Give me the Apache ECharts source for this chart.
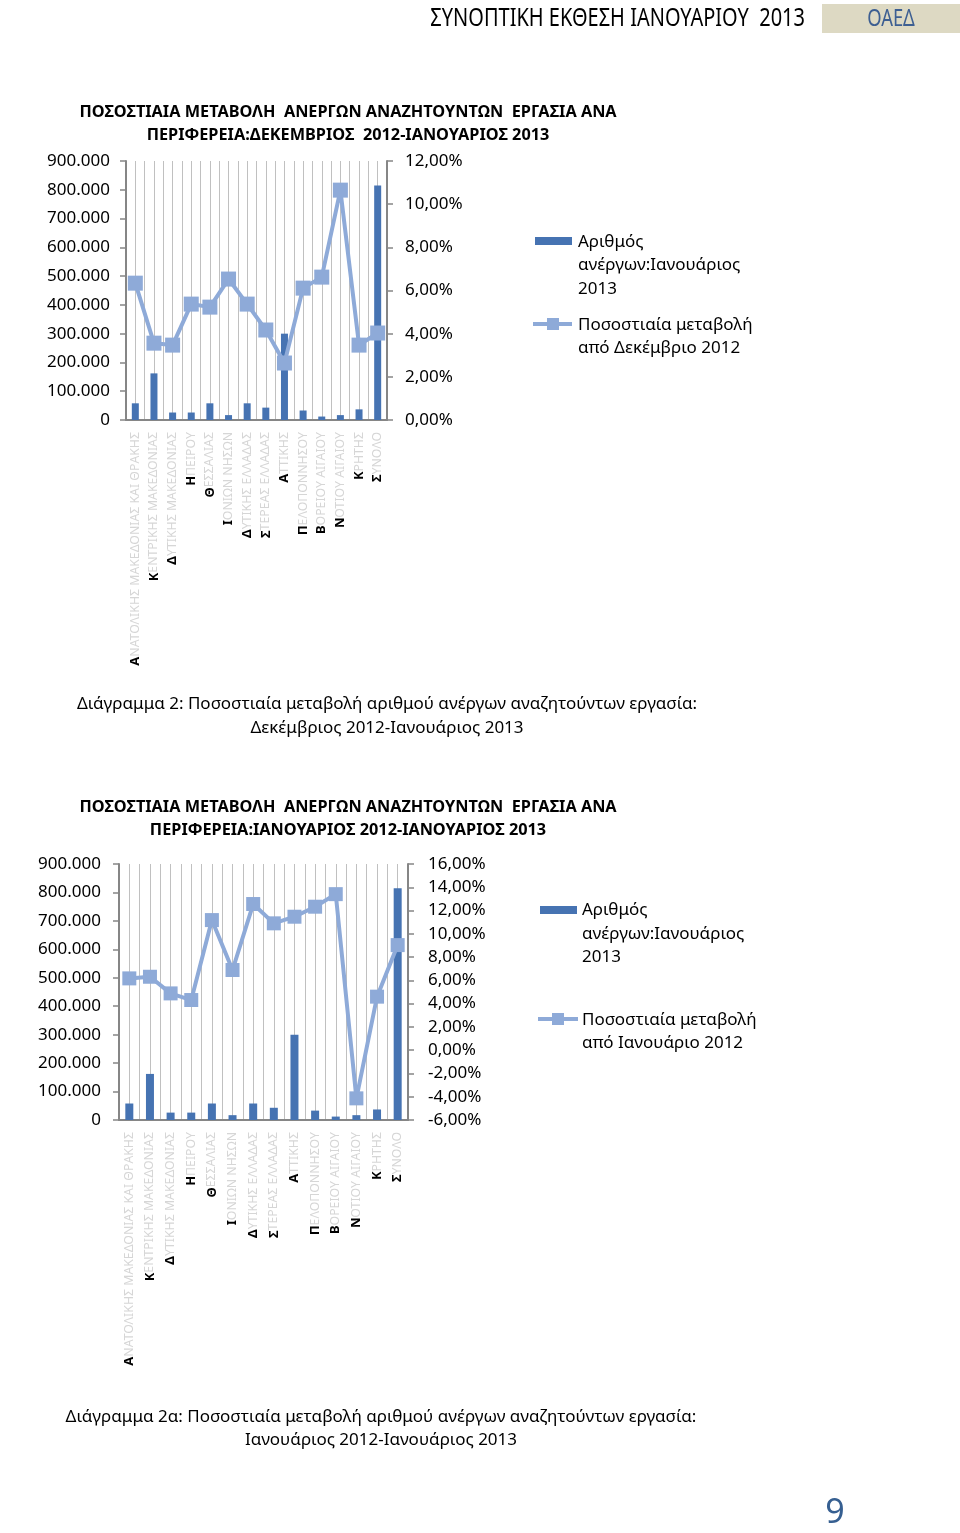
<!DOCTYPE html>
<html><head><meta charset="utf-8">
<script src="https://cdn.jsdelivr.net/npm/echarts@6/dist/echarts.min.js"></script>
<style>html,body{margin:0;padding:0;background:#fff}#c{width:960px;height:1533px}</style>
</head><body><div id="c"></div>
<script>
// ---- data ----
const regions = ['ΑΝΑΤΟΛΙΚΗΣ ΜΑΚΕΔΟΝΙΑΣ ΚΑΙ ΘΡΑΚΗΣ','ΚΕΝΤΡΙΚΗΣ ΜΑΚΕΔΟΝΙΑΣ','ΔΥΤΙΚΗΣ ΜΑΚΕΔΟΝΙΑΣ','ΗΠΕΙΡΟΥ','ΘΕΣΣΑΛΙΑΣ','ΙΟΝΙΩΝ ΝΗΣΩΝ','ΔΥΤΙΚΗΣ ΕΛΛΑΔΑΣ','ΣΤΕΡΕΑΣ ΕΛΛΑΔΑΣ','ΑΤΤΙΚΗΣ','ΠΕΛΟΠΟΝΝΗΣΟΥ','ΒΟΡΕΙΟΥ ΑΙΓΑΙΟΥ','ΝΟΤΙΟΥ ΑΙΓΑΙΟΥ','ΚΡΗΤΗΣ','ΣΥΝΟΛΟ'];
const unemployedJan2013 = [58000,162000,26000,26000,58000,17000,58000,43000,300000,33000,12000,17000,37000,815000];
const changeFromDec2012 = [6.34,3.56,3.47,5.37,5.23,6.53,5.37,4.17,2.64,6.11,6.62,10.65,3.47,4.03];
const changeFromJan2012 = [6.17,6.31,4.88,4.31,11.18,6.89,12.56,10.90,11.47,12.33,13.41,-4.14,4.60,9.03];
const countAxis = {min:0, max:900000, step:100000};
const pctAxis1 = {min:0, max:12, step:2};
const pctAxis2 = {min:-6, max:16, step:2};
const barName = 'Αριθμός ανέργων:Ιανουάριος 2013';
const lineName1 = 'Ποσοστιαία μεταβολή από Δεκέμβριο 2012';
const lineName2 = 'Ποσοστιαία μεταβολή από Ιανουάριο 2012';

// ---- style ----
const FONT = "'Noto Sans', 'DejaVu Sans', sans-serif";
const BAR = '#4673b2';
const LINE = '#8eaad8';
const AXIS = '#868686';
const GRIDC = '#c0c0c0';

const thousands = v => v === 0 ? '0' : (v/1000).toFixed(0) + '.000';
const pct = v => v.toFixed(2).replace('.', ',') + '%';
const catFmt = v => '{k|' + v.charAt(0) + '}{r|' + v.slice(1) + '}';

function catAxis(g){
  return {type:'category', gridIndex:g, data:regions, position:'bottom',
    axisLine:{onZero:false, lineStyle:{color:AXIS, width:2}},
    axisTick:{length:5, lineStyle:{color:AXIS, width:1.5}},
    axisLabel:{rotate:90, interval:0, margin:12, formatter:catFmt,
      rich:{k:{fontSize:13, fontWeight:'bold', color:'#000', fontFamily:FONT},
            r:{fontSize:12.3, color:'#d6d6d6', fontFamily:FONT}}},
    splitLine:{show:false}};
}
function halfGrid(g){
  return {type:'value', gridIndex:g, position:'top', min:0, max:regions.length*2, interval:1,
    axisLine:{show:false}, axisTick:{show:false}, axisLabel:{show:false},
    splitLine:{show:true, lineStyle:{color:GRIDC, width:1}}};
}
function valAxis(g, pos, a, fmt, margin){
  return {type:'value', gridIndex:g, position:pos, min:a.min, max:a.max, interval:a.step,
    axisLine:{show:true, onZero:false, lineStyle:{color:AXIS, width:2}},
    axisTick:{show:true, length:6, lineStyle:{color:AXIS, width:1.5}},
    axisLabel:{formatter:fmt, color:'#000', fontSize:17, fontFamily:FONT, margin:margin},
    splitLine:{show:false}};
}

const chart = echarts.init(document.getElementById('c'), null, {renderer:'canvas'});
const T = (x, y, text, o) => Object.assign({type:'text', x:x, y:y, style:Object.assign({text:text, fill:'#000', fontSize:17, fontFamily:FONT, align:'left', verticalAlign:'middle'}, o||{})});

chart.setOption({
  animation:false,
  backgroundColor:'#fff',
  title:[
    {text:'ΠΟΣΟΣΤΙΑΙΑ ΜΕΤΑΒΟΛΗ  ΑΝΕΡΓΩΝ ΑΝΑΖΗΤΟΥΝΤΩΝ  ΕΡΓΑΣΙΑ ΑΝΑ\nΠΕΡΙΦΕΡΕΙΑ:ΔΕΚΕΜΒΡΙΟΣ  2012-ΙΑΝΟΥΑΡΙΟΣ 2013', left:343, top:96, textAlign:'center',
     textStyle:{fontSize:16.3, fontWeight:'bold', lineHeight:23, color:'#000', fontFamily:FONT}},
    {text:'ΠΟΣΟΣΤΙΑΙΑ ΜΕΤΑΒΟΛΗ  ΑΝΕΡΓΩΝ ΑΝΑΖΗΤΟΥΝΤΩΝ  ΕΡΓΑΣΙΑ ΑΝΑ\nΠΕΡΙΦΕΡΕΙΑ:ΙΑΝΟΥΑΡΙΟΣ 2012-ΙΑΝΟΥΑΡΙΟΣ 2013', left:343, top:791, textAlign:'center',
     textStyle:{fontSize:16.3, fontWeight:'bold', lineHeight:23, color:'#000', fontFamily:FONT}}
  ],
  grid:[
    {left:126, top:161, width:261, height:259},
    {left:119, top:864, width:289, height:256}
  ],
  xAxis:[catAxis(0), halfGrid(0), catAxis(1), halfGrid(1)],
  yAxis:[
    valAxis(0,'left',countAxis,thousands,16),
    valAxis(0,'right',pctAxis1,pct,18),
    valAxis(1,'left',countAxis,thousands,18),
    valAxis(1,'right',pctAxis2,pct,20)
  ],
  series:[
    {name:barName, type:'bar', xAxisIndex:0, yAxisIndex:0, data:unemployedJan2013, barWidth:7, itemStyle:{color:BAR}},
    {name:lineName1, type:'line', xAxisIndex:0, yAxisIndex:1, data:changeFromDec2012, symbol:'rect', symbolSize:15,
     lineStyle:{color:LINE, width:4}, itemStyle:{color:LINE}},
    {name:barName, type:'bar', xAxisIndex:2, yAxisIndex:2, data:unemployedJan2013, barWidth:8, itemStyle:{color:BAR}},
    {name:lineName2, type:'line', xAxisIndex:2, yAxisIndex:3, data:changeFromJan2012, symbol:'rect', symbolSize:14,
     lineStyle:{color:LINE, width:4}, itemStyle:{color:LINE}}
  ],
  graphic:[
    {type:'rect', shape:{x:822, y:4, width:138, height:29}, style:{fill:'#ddd9c3'}},
    {type:'text', x:805, y:19, scaleX:0.8, style:{text:'ΣΥΝΟΠΤΙΚΗ ΕΚΘΕΣΗ ΙΑΝΟΥΑΡΙΟΥ  2013', fill:'#000', fontSize:25, fontFamily:FONT, align:'right', verticalAlign:'middle'}},
    {type:'text', x:891, y:19, scaleX:0.8, style:{text:'ΟΑΕΔ', fill:'#3d5f92', fontSize:23, fontFamily:FONT, align:'center', verticalAlign:'middle'}},
    // legend 1
    {type:'rect', shape:{x:535, y:237, width:37, height:8}, style:{fill:BAR}},
    T(578,242,'Αριθμός'), T(578,265,'ανέργων:Ιανουάριος'), T(578,289,'2013'),
    {type:'line', shape:{x1:533, y1:324, x2:572, y2:324}, style:{stroke:LINE, lineWidth:4}},
    {type:'rect', shape:{x:547, y:318, width:12, height:12}, style:{fill:LINE}},
    T(578,325,'Ποσοστιαία μεταβολή'), T(578,348,'από Δεκέμβριο 2012'),
    // caption 1
    T(387,704,'Διάγραμμα 2: Ποσοστιαία μεταβολή αριθμού ανέργων αναζητούντων εργασία:', {align:'center'}),
    T(387,728,'Δεκέμβριος 2012-Ιανουάριος 2013', {align:'center'}),
    // legend 2
    {type:'rect', shape:{x:540, y:906, width:37, height:8}, style:{fill:BAR}},
    T(582,910,'Αριθμός'), T(582,934,'ανέργων:Ιανουάριος'), T(582,957,'2013'),
    {type:'line', shape:{x1:538, y1:1019, x2:578, y2:1019}, style:{stroke:LINE, lineWidth:4}},
    {type:'rect', shape:{x:552, y:1013, width:12, height:12}, style:{fill:LINE}},
    T(582,1020,'Ποσοστιαία μεταβολή'), T(582,1043,'από Ιανουάριο 2012'),
    // caption 2
    T(381,1417,'Διάγραμμα 2α: Ποσοστιαία μεταβολή αριθμού ανέργων αναζητούντων εργασία:', {align:'center'}),
    T(381,1440,'Ιανουάριος 2012-Ιανουάριος 2013', {align:'center'}),
    // page number
    T(835,1513,'9', {align:'center', fontSize:34, fill:'#365f91'})
  ]
});
</script></body></html>
